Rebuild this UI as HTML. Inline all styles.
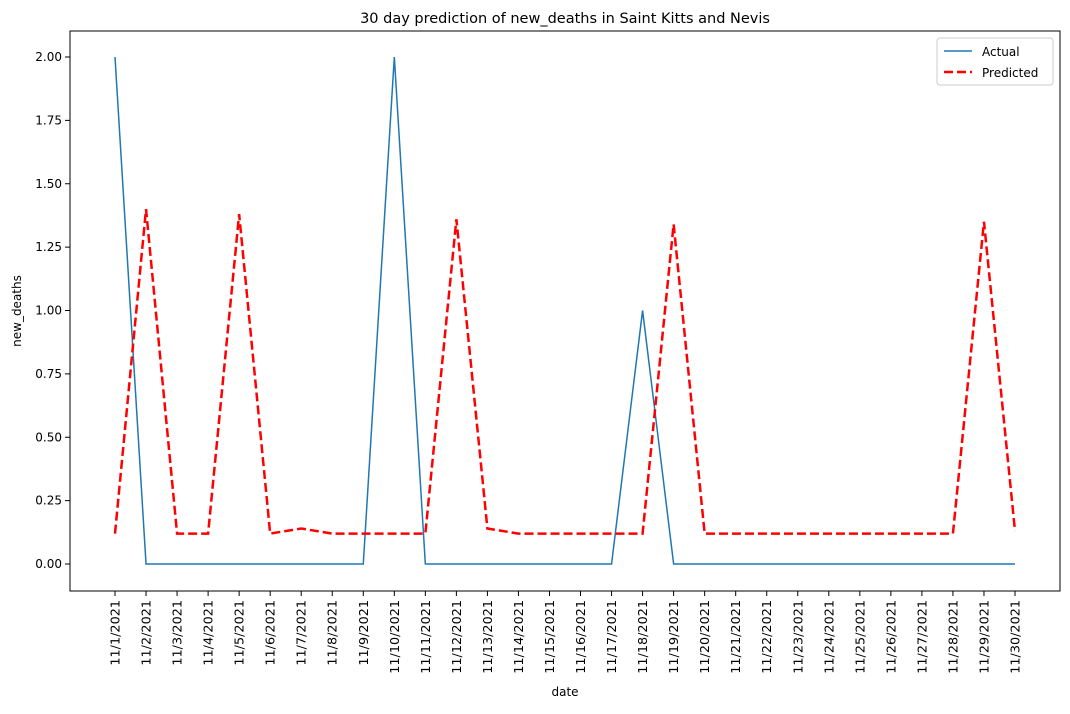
<!DOCTYPE html>
<html><head><meta charset="utf-8"><style>
body{margin:0;background:#fff;font-family:"Liberation Sans","DejaVu Sans",sans-serif;}
svg text{font-family:"DejaVu Sans","Liberation Sans",sans-serif;fill:#000}
</style></head><body>
<svg id="chart" width="1070" height="709" xmlns="http://www.w3.org/2000/svg">
<rect x="0" y="0" width="1070" height="709" fill="#fff"/>
<text x="565" y="23" font-size="14.5" text-anchor="middle">30 day prediction of new_deaths in Saint Kitts and Nevis</text>
<g id="grid"></g>
<rect x="70" y="31" width="990" height="560" fill="none" stroke="#000" stroke-width="1"/>
<text x="565" y="696" font-size="12" text-anchor="middle">date</text>
<text transform="translate(21,311) rotate(-90)" font-size="12" text-anchor="middle">new_deaths</text>
<g>
<rect x="937" y="38" width="116" height="47" fill="#fff" stroke="#ccc" rx="3"/>
<line x1="944" y1="51" x2="972" y2="51" stroke="#1f77b4" stroke-width="1.5"/>
<text x="982" y="56" font-size="12">Actual</text>
<line x1="944" y1="72" x2="972" y2="72" stroke="red" stroke-width="2.5" stroke-dasharray="9,4"/>
<text x="982" y="77" font-size="12">Predicted</text>
</g>
</svg>
<script>
const categories=["11/1/2021","11/2/2021","11/3/2021","11/4/2021","11/5/2021","11/6/2021","11/7/2021","11/8/2021","11/9/2021","11/10/2021","11/11/2021","11/12/2021","11/13/2021","11/14/2021","11/15/2021","11/16/2021","11/17/2021","11/18/2021","11/19/2021","11/20/2021","11/21/2021","11/22/2021","11/23/2021","11/24/2021","11/25/2021","11/26/2021","11/27/2021","11/28/2021","11/29/2021","11/30/2021"];
const actual=[2,0,0,0,0,0,0,0,0,2,0,0,0,0,0,0,0,1,0,0,0,0,0,0,0,0,0,0,0,0];
const predicted=[0.12,1.40,0.12,0.12,1.38,0.12,0.14,0.12,0.12,0.12,0.12,1.36,0.14,0.12,0.12,0.12,0.12,0.12,1.34,0.12,0.12,0.12,0.12,0.12,0.12,0.12,0.12,0.12,1.35,0.13];
const yTicks=[0,0.25,0.5,0.75,1,1.25,1.5,1.75,2];
const NS="http://www.w3.org/2000/svg",svg=document.getElementById('chart'),g=document.getElementById('grid');
const x=i=>115+i*(1015-115)/(categories.length-1);
const y=v=>564-v*(564-57)/2;
function mk(t,a,p){const e=document.createElementNS(NS,t);for(const k in a)e.setAttribute(k,a[k]);(p||svg).appendChild(e);return e;}
yTicks.forEach(v=>{
const l=mk('line',{x1:65,x2:70,y1:y(v),y2:y(v),stroke:'#000'},g);


const t=mk('text',{x:62,y:y(v)+4,'font-size':12,'text-anchor':'end'},g);t.textContent=v.toFixed(2);


});
categories.forEach((c,i)=>{
const l=mk('line',{x1:x(i),x2:x(i),y1:591,y2:596,stroke:'#000'},g);


const t=mk('text',{transform:`translate(${x(i)+4.5},600) rotate(-90)`,'font-size':12.8,'text-anchor':'end'},g);t.textContent=c;


});
const pa=mk('polyline',{points:actual.map((v,i)=>x(i)+','+y(v)).join(' '),fill:'none',stroke:'#1f77b4','stroke-width':1.5});


const pp=mk('polyline',{points:predicted.map((v,i)=>x(i)+','+y(v)).join(' '),fill:'none',stroke:'red','stroke-width':2.5,'stroke-dasharray':'9,4'});


</script>
</body></html>
